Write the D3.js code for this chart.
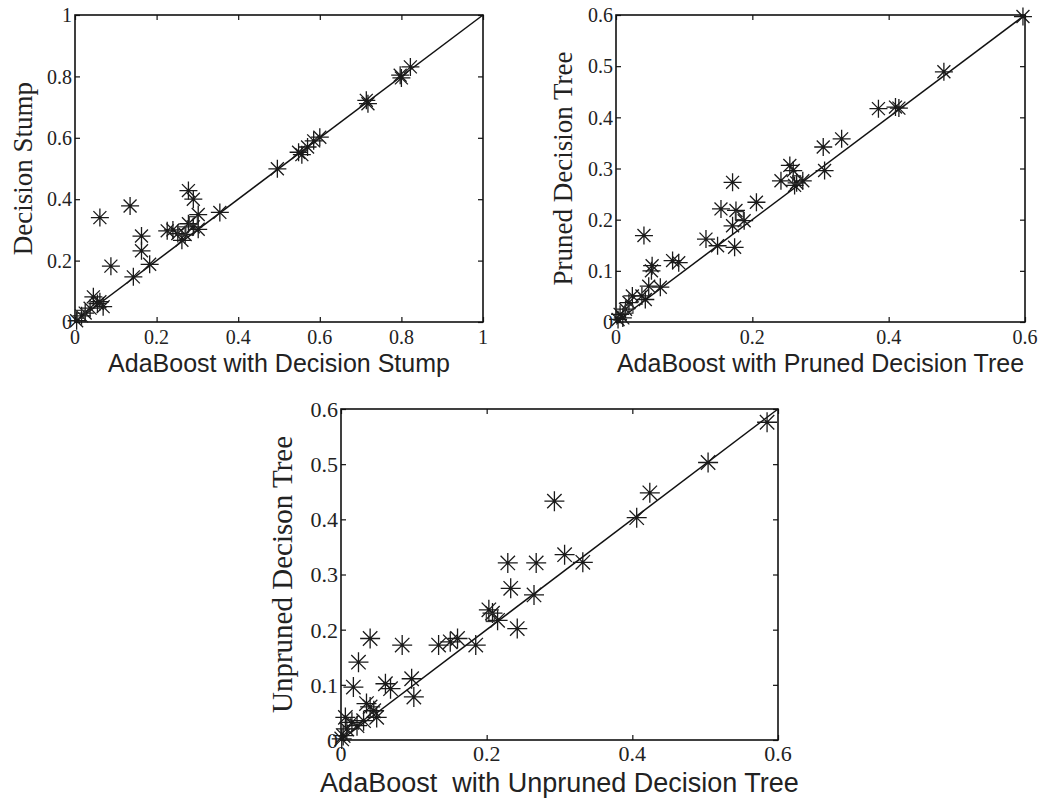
<!DOCTYPE html>
<html>
<head>
<meta charset="utf-8">
<script src="https://cdn.jsdelivr.net/npm/d3@7"></script>
<style>
  html, body { margin: 0; padding: 0; background: #fff; }
  svg { display: block; }
</style>
</head>
<body>
<svg id="chart" width="1038" height="800"></svg>
<script>
// ---------------- DATA ----------------
// Panel 1: AdaBoost with Decision Stump (x) vs Decision Stump (y)
const stumpPoints = [
  [0.004,0.004],[0.016,0.020],[0.025,0.029],[0.037,0.045],[0.045,0.082],[0.061,0.066],[0.069,0.050],[0.055,0.060],
  [0.061,0.340],[0.135,0.378],[0.088,0.182],[0.143,0.147],[0.163,0.280],[0.163,0.232],[0.183,0.188],
  [0.226,0.297],[0.240,0.300],[0.252,0.288],[0.262,0.266],[0.270,0.285],[0.278,0.428],[0.290,0.400],
  [0.278,0.320],[0.302,0.350],[0.302,0.302],[0.290,0.310],[0.355,0.357],[0.496,0.499],[0.548,0.553],
  [0.556,0.545],[0.570,0.570],[0.585,0.590],[0.600,0.602],[0.714,0.722],[0.718,0.711],[0.797,0.804],
  [0.800,0.795],[0.822,0.831]
];
const stumpSquares = [[0.015,0.025],[0.262,0.297],[0.290,0.330]];

// Panel 2: AdaBoost with Pruned Decision Tree (x) vs Pruned Decision Tree (y)
const prunedPoints = [
  [0.597,0.597],[0.481,0.489],[0.385,0.417],[0.410,0.420],[0.415,0.418],[0.331,0.358],[0.304,0.342],
  [0.306,0.296],[0.255,0.306],[0.260,0.296],[0.242,0.276],[0.265,0.272],[0.274,0.276],[0.262,0.267],
  [0.171,0.273],[0.206,0.234],[0.154,0.221],[0.176,0.218],[0.171,0.188],[0.188,0.198],[0.132,0.162],
  [0.149,0.149],[0.174,0.146],[0.041,0.169],[0.053,0.110],[0.052,0.100],[0.083,0.120],[0.092,0.116],
  [0.048,0.070],[0.065,0.068],[0.024,0.051],[0.038,0.051],[0.043,0.044],[0.019,0.038],[0.014,0.025],
  [0.006,0.015],[0.003,0.005],[0.010,0.008]
];
const prunedSquares = [[0.019,0.025],[0.265,0.278],[0.181,0.208]];

// Panel 3: AdaBoost with Unpruned Decision Tree (x) vs Unpruned Decison Tree (y)
const unprunedPoints = [
  [0.585,0.576],[0.504,0.503],[0.424,0.448],[0.406,0.403],[0.293,0.433],[0.307,0.336],[0.332,0.322],
  [0.268,0.321],[0.229,0.321],[0.233,0.275],[0.265,0.263],[0.203,0.236],[0.208,0.230],[0.215,0.217],
  [0.242,0.202],[0.185,0.172],[0.160,0.184],[0.150,0.178],[0.134,0.172],[0.084,0.172],[0.040,0.184],
  [0.024,0.141],[0.017,0.096],[0.061,0.102],[0.068,0.093],[0.097,0.111],[0.100,0.078],[0.035,0.066],
  [0.040,0.060],[0.045,0.053],[0.049,0.041],[0.031,0.035],[0.006,0.041],[0.015,0.032],[0.008,0.020],
  [0.003,0.008],[0.001,0.002],[0.022,0.026]
];
const unprunedSquares = [[0.205,0.222]];

// Tick values / labels
const ticks1 = [0, 0.2, 0.4, 0.6, 0.8, 1];
const ticks1Labels = ["0", "0.2", "0.4", "0.6", "0.8", "1"];
const ticksX06 = [0, 0.2, 0.4, 0.6];
const ticksX06Labels = ["0", "0.2", "0.4", "0.6"];
const ticksY06 = [0, 0.1, 0.2, 0.3, 0.4, 0.5, 0.6];
const ticksY06Labels = ["0", "0.1", "0.2", "0.3", "0.4", "0.5", "0.6"];

// Axis titles
const xTitles = ["AdaBoost with Decision Stump", "AdaBoost with Pruned Decision Tree", "AdaBoost\u00A0 with Unpruned Decision Tree"];
const yTitles = ["Decision Stump", "Pruned Decision Tree", "Unpruned Decison Tree"];

// ---------------- DRAW ----------------
const svg = d3.select("#chart");

function asteriskPath(r) {
  const d = r * 0.72;
  return `M${-r},0L${r},0M0,${-r}L0,${r}M${-d},${-d}L${d},${d}M${-d},${d}L${d},${-d}`;
}

function drawPanel(cfg) {
  const g = svg.append("g");
  const x = d3.scaleLinear().domain([0, cfg.max]).range([cfg.left, cfg.right]);
  const y = d3.scaleLinear().domain([0, cfg.max]).range([cfg.bottom, cfg.top]);
  const tl = 5;

  // Box
  g.append("rect")
    .attr("x", cfg.left).attr("y", cfg.top)
    .attr("width", cfg.right - cfg.left).attr("height", cfg.bottom - cfg.top)
    .attr("fill", "none").attr("stroke", "#111").attr("stroke-width", 1.6);

  // Axes with inward ticks (bottom, left, top, right)
  const xb = d3.axisBottom(x).tickValues(cfg.xTicks).tickSize(-tl).tickFormat("");
  const xt = d3.axisTop(x).tickValues(cfg.xTicks).tickSize(-tl).tickFormat("");
  const yl = d3.axisLeft(y).tickValues(cfg.yTicks).tickSize(-tl).tickFormat("");
  const yr = d3.axisRight(y).tickValues(cfg.yTicks).tickSize(-tl).tickFormat("");
  [[xb, `translate(0,${cfg.bottom})`], [xt, `translate(0,${cfg.top})`],
   [yl, `translate(${cfg.left},0)`], [yr, `translate(${cfg.right},0)`]].forEach(([ax, tr]) => {
    const a = g.append("g").attr("transform", tr).call(ax);
    a.select(".domain").remove();
    a.selectAll("line").attr("stroke", "#111").attr("stroke-width", 1.2);
  });

  // Tick labels
  g.selectAll(".xtl").data(cfg.xTicks).join("text")
    .attr("x", d => x(d)).attr("y", cfg.bottom + cfg.xLabOff)
    .attr("text-anchor", "middle")
    .attr("font-family", "'Liberation Serif', 'Times New Roman', serif")
    .attr("font-size", cfg.tickFs).attr("fill", "#222")
    .text((d, i) => cfg.xTickLabels[i]);
  g.selectAll(".ytl").data(cfg.yTicks).join("text")
    .attr("x", cfg.left - 3).attr("y", d => y(d)).attr("dy", "0.36em")
    .attr("text-anchor", "end")
    .attr("font-family", "'Liberation Serif', 'Times New Roman', serif")
    .attr("font-size", cfg.tickFs).attr("fill", "#222")
    .text((d, i) => cfg.yTickLabels[i]);

  // Diagonal reference line
  g.append("line")
    .attr("x1", x(0)).attr("y1", y(0)).attr("x2", x(cfg.max)).attr("y2", y(cfg.max))
    .attr("stroke", "#111").attr("stroke-width", 1.5);

  // Points
  g.selectAll(".pt").data(cfg.points).join("path")
    .attr("transform", d => `translate(${x(d[0])},${y(d[1])})`)
    .attr("d", asteriskPath(cfg.markR))
    .attr("fill", "none").attr("stroke", "#1a1a1a").attr("stroke-width", 1.3);
  g.selectAll(".sq").data(cfg.squares).join("rect")
    .attr("x", d => x(d[0]) - cfg.sq / 2).attr("y", d => y(d[1]) - cfg.sq / 2)
    .attr("width", cfg.sq).attr("height", cfg.sq)
    .attr("fill", "none").attr("stroke", "#333").attr("stroke-width", 1.2);

  // Titles
  g.append("text")
    .attr("x", (cfg.left + cfg.right) / 2).attr("y", cfg.bottom + cfg.xTitleOff)
    .attr("text-anchor", "middle")
    .attr("font-family", "'Liberation Sans', Arial, sans-serif")
    .attr("font-size", cfg.xTitleFs).attr("fill", "#222")
    .text(cfg.xTitle);
  g.append("text")
    .attr("transform", `translate(${cfg.yTitleX},${(cfg.top + cfg.bottom) / 2}) rotate(-90)`)
    .attr("text-anchor", "middle").attr("dy", "0.32em")
    .attr("font-family", "'Liberation Serif', 'Times New Roman', serif")
    .attr("font-size", cfg.yTitleFs).attr("fill", "#222")
    .text(cfg.yTitle);
}

drawPanel({
  left: 75, right: 483, top: 15, bottom: 322, max: 1,
  xTicks: ticks1, xTickLabels: ticks1Labels, yTicks: ticks1, yTickLabels: ticks1Labels,
  points: stumpPoints, squares: stumpSquares,
  tickFs: 20, xLabOff: 22, xTitle: xTitles[0], xTitleFs: 25, xTitleOff: 50,
  yTitle: yTitles[0], yTitleFs: 27, yTitleX: 23, markR: 9, sq: 8
});
drawPanel({
  left: 616, right: 1025, top: 15, bottom: 322, max: 0.6,
  xTicks: ticksX06, xTickLabels: ticksX06Labels, yTicks: ticksY06, yTickLabels: ticksY06Labels,
  points: prunedPoints, squares: prunedSquares,
  tickFs: 20, xLabOff: 22, xTitle: xTitles[1], xTitleFs: 25, xTitleOff: 50,
  yTitle: yTitles[1], yTitleFs: 27, yTitleX: 563, markR: 9, sq: 8
});
drawPanel({
  left: 341, right: 778, top: 409, bottom: 740, max: 0.6,
  xTicks: ticksX06, xTickLabels: ticksX06Labels, yTicks: ticksY06, yTickLabels: ticksY06Labels,
  points: unprunedPoints, squares: unprunedSquares,
  tickFs: 22, xLabOff: 21, xTitle: xTitles[2], xTitleFs: 27, xTitleOff: 52,
  yTitle: yTitles[2], yTitleFs: 29, yTitleX: 283, markR: 10, sq: 8
});
</script>
</body>
</html>
